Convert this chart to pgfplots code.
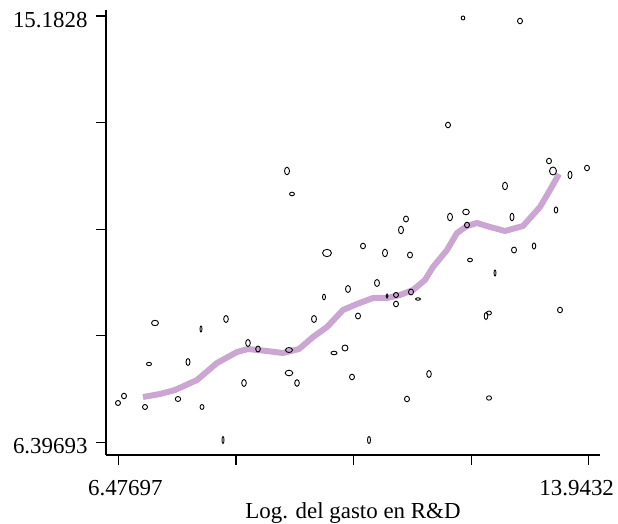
\documentclass[border=0pt]{standalone}
\usepackage{fontspec}
\setmainfont{Liberation Serif}
\usepackage{pgfplots}
\pgfplotsset{compat=1.18}
\usepackage{pgfplotstable}
\definecolor{lowess}{RGB}{204,166,210}

\pgfplotstableread{
x y a b
6.4722 7.2069 2.5 2.5
6.5674 7.3512 2.5 2.8
6.9008 7.1245 2.5 2.5
7.0595 8.8557 3.5 2.7
6.9642 8.0107 2.5 1.7
7.4245 7.2893 2.7 2.5
7.5832 8.0519 2.0 3.5
7.7896 8.7320 1.0 3.0
7.8055 7.1245 2.0 2.5
8.1864 8.9381 2.3 3.5
8.1388 6.4443 1.0 3.5
8.4721 7.6191 2.3 3.5
8.5356 8.4435 2.3 3.5
8.6943 8.3198 2.3 3.0
9.1863 8.2992 3.5 2.5
9.1863 7.8252 3.8 2.8
9.3133 7.6191 2.3 3.3
9.1546 11.9884 2.5 3.8
9.2339 11.5144 2.5 1.8
9.5831 8.9381 2.5 3.5
9.7418 9.3916 1.5 2.8
9.7895 10.2984 4.5 3.7
10.1228 9.5564 2.5 3.5
9.9006 8.2374 3.0 1.8
10.0752 8.3405 3.0 3.0
10.1863 7.7428 2.5 2.8
10.2815 8.9999 2.5 3.0
10.3608 10.4427 2.5 2.8
10.5831 9.6801 2.5 3.5
10.7100 10.2984 2.5 3.8
10.7418 9.4122 1.0 2.0
10.8846 9.4328 2.5 2.5
10.8846 9.2473 2.5 2.8
11.0433 10.9991 2.5 3.0
10.9640 10.7724 2.5 3.8
11.1068 10.2572 2.5 3.0
11.1227 9.4946 2.5 3.0
11.2338 9.3503 2.5 1.2
11.0592 7.2893 2.5 2.8
11.4084 7.8046 2.3 3.5
10.4561 6.4443 1.5 3.5
11.7100 12.9365 2.5 2.8
11.9480 15.1418 1.8 2.0
12.8528 15.0799 2.5 2.8
11.7417 11.0404 2.5 3.8
11.9957 11.1434 3.3 2.8
12.0115 10.8755 2.5 2.8
12.0592 10.1541 2.5 1.8
12.4560 9.8862 1.0 3.0
12.3131 8.9999 1.8 3.5
12.3607 9.0618 2.5 2.0
12.3607 7.3100 2.5 2.2
12.6147 11.6793 2.5 3.8
12.7258 11.0404 2.0 3.8
12.7575 10.3602 2.5 3.0
13.0750 10.4427 1.8 3.0
13.3130 12.1945 2.5 2.8
13.3765 11.9884 3.5 4.0
13.6464 11.9060 2.0 3.8
13.9162 12.0502 2.5 2.8
13.4241 11.1846 1.8 3.0
13.4876 9.1236 2.5 2.8
}\pts

\pgfplotstableread{
x y
6.8690 7.3306
7.1388 7.3924
7.3769 7.4748
7.7261 7.6809
8.0435 8.0313
8.3610 8.2580
8.5356 8.3198
8.8371 8.2786
9.0911 8.2374
9.3450 8.3198
9.5672 8.5672
9.7895 8.7733
10.0423 9.1236
10.2656 9.2473
10.5196 9.3710
10.7418 9.3710
10.9481 9.4328
11.1544 9.5358
11.3449 9.7419
11.4719 10.0099
11.6941 10.3602
11.8528 10.7106
12.0115 10.8549
12.1703 10.9167
12.3766 10.8343
12.6147 10.7518
12.9004 10.8549
13.1702 11.2465
13.3289 11.5968
13.4718 11.9266
}\lws

\begin{document}
\begin{tikzpicture}
\begin{axis}[
  scale only axis, width=494bp, height=445bp,
  xmin=6.2817, xmax=14.1226, ymin=6.1352, ymax=15.3065,
  axis lines*=left,
  axis line style={line width=1.2bp, black},
  every tick/.style={line width=1.2bp, black},
  major tick length=10bp, tick align=outside,
  xtick={6.47697,8.34353,10.21009,12.07664,13.9432},
  ytick={6.39693,8.59340,10.78987,12.98633,15.1828},
  xticklabels={\hspace*{14bp}6.47697,,,,13.9432\hspace*{24bp}},
  yticklabels={6.39693,,,,15.1828},
  ticklabel style={font=\fontsize{23}{27}\selectfont},
  xticklabel style={yshift=-12bp},
  yticklabel style={xshift=-5bp, yshift=-4bp},
  xlabel={Log. del gasto en R\&D},
  xlabel style={font=\fontsize{23}{27}\selectfont},
  clip=false,
]
\addplot[scatter, only marks, mark=o, mark size=1pt, line width=0.9pt,
  point meta=x,
  scatter/use mapped color={draw=black, fill=none},
  visualization depends on={\thisrow{a} \as \ma},
  visualization depends on={\thisrow{b} \as \mb},
  scatter/@pre marker code/.append code={\pgftransformxscale{\ma}\pgftransformyscale{\mb}},
] table[x=x, y=y] {\pts};
\addplot[no marks, color=lowess, line width=6bp, line join=round] table[x=x, y=y] {\lws};
\end{axis}
\pgfresetboundingbox
\path (-106bp,-69bp) rectangle (512bp,455bp);
\end{tikzpicture}
\end{document}
